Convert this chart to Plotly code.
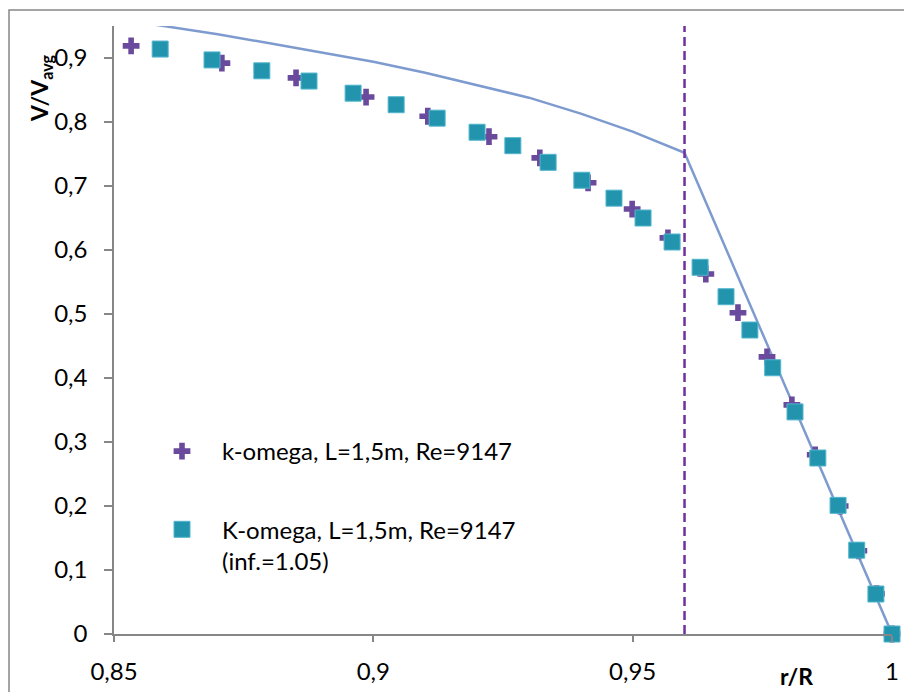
import plotly.graph_objects as go

# ---- data ----
plus_x = [0.8533, 0.8708, 0.8851, 0.8986, 0.9105, 0.9223, 0.9321, 0.9414, 0.9499,
          0.9568, 0.9641, 0.9703, 0.9759, 0.9807, 0.9852, 0.9900, 0.9936, 0.9970, 1.0]
plus_y = [0.919, 0.892, 0.869, 0.839, 0.809, 0.777, 0.744, 0.705, 0.664,
          0.619, 0.5625, 0.502, 0.433, 0.358, 0.280, 0.200, 0.130, 0.063, 0.0]

sq_x = [0.8589, 0.8689, 0.8785, 0.8876, 0.8961, 0.9044, 0.9123, 0.9200, 0.9269,
        0.9337, 0.9402, 0.9464, 0.9520, 0.9576, 0.9630, 0.9680, 0.9726, 0.9770,
        0.9813, 0.9857, 0.9896, 0.9932, 0.9969, 1.0]
sq_y = [0.914, 0.897, 0.880, 0.864, 0.845, 0.827, 0.806, 0.784, 0.763,
        0.737, 0.709, 0.681, 0.650, 0.6125, 0.573, 0.527, 0.475, 0.416,
        0.347, 0.275, 0.201, 0.131, 0.0625, 0.0]

line_x = [0.85, 0.86, 0.87, 0.88, 0.89, 0.90, 0.91, 0.92, 0.93, 0.94, 0.95, 0.96, 1.0]
line_y = [0.962, 0.950, 0.937, 0.923, 0.909, 0.894, 0.877, 0.858, 0.838, 0.813,
          0.785, 0.752, 0.0]

vline_x = [0.96, 0.96]
vline_y = [0.0, 0.95]

name_plus = "k-omega, L=1,5m, Re=9147"
name_sq = "K-omega, L=1,5m, Re=9147<br>(inf.=1.05)"

x_ticks = [0.85, 0.9, 0.95, 1.0]
y_ticks = [0, 0.1, 0.2, 0.3, 0.4, 0.5, 0.6, 0.7, 0.8, 0.9]

FONT = "Lato"
FS = 24

fig = go.Figure()

fig.add_trace(go.Scatter(
    x=line_x, y=line_y, mode="lines", showlegend=False,
    line=dict(color="#7E9BCF", width=2.5), hoverinfo="skip"))

fig.add_trace(go.Scatter(
    x=vline_x, y=vline_y, mode="lines", showlegend=False,
    line=dict(color="#7030A0", width=2.5, dash="9px,5px"), hoverinfo="skip"))

fig.add_trace(go.Scatter(
    x=plus_x, y=plus_y, mode="markers", name=name_plus, legendgroup="a",
    cliponaxis=False,
    marker=dict(symbol="cross", size=14, color="#6A4A9C",
                line=dict(width=0))))

fig.add_trace(go.Scatter(
    x=sq_x, y=sq_y, mode="markers", name=name_sq, legendgroup="b",
    cliponaxis=False,
    marker=dict(symbol="square", size=16, color="#2394AE",
                line=dict(width=1, color="#52B5CC"))))

W, H = 904, 692
L, R, T, B = 114, 12, 26, 58
pw, ph = W - L - R, H - T - B


def px(xp):
    return (xp - L) / pw


def py(yp):
    return (H - B - yp) / ph


fig.update_layout(
    width=W, height=H,
    margin=dict(l=L, r=R, t=T, b=B, autoexpand=False),
    paper_bgcolor="white", plot_bgcolor="white",
    separators=", ",
    font=dict(family=FONT, size=FS, color="#000000"),
    showlegend=True,
    legend=dict(x=px(142), y=py(429), xanchor="left", yanchor="top",
                bgcolor="rgba(0,0,0,0)", font=dict(family=FONT, size=FS),
                itemwidth=70,
                tracegroupgap=44, valign="top", traceorder="grouped"),
    xaxis=dict(range=[0.85, 1.0], tickvals=x_ticks, showgrid=False,
               zeroline=False, showline=True, linecolor="#868686", linewidth=1.5,
               ticks="outside", ticklen=6, tickcolor="#868686", tickwidth=1.5,
               ticklabelstandoff=9, automargin=False,
               tickfont=dict(family=FONT, size=FS)),
    yaxis=dict(range=[0, 0.95], tickvals=y_ticks, showgrid=False,
               zeroline=False, showline=True, linecolor="#868686", linewidth=1.5,
               ticks="outside", ticklen=8, tickcolor="#868686", tickwidth=1.5,
               ticklabelstandoff=12, automargin=False,
               tickfont=dict(family=FONT, size=FS)),
    annotations=[
        dict(text="<b>V/V<sub>avg</sub></b>", xref="paper", yref="paper",
             x=px(40), y=py(88), textangle=-90, showarrow=False,
             font=dict(family=FONT, size=23), xanchor="center", yanchor="middle"),
        dict(text="<b>r/R</b>", xref="paper", yref="paper",
             x=px(796), y=py(676), showarrow=False,
             font=dict(family=FONT, size=23), xanchor="center", yanchor="middle"),
    ],
    shapes=[
        dict(type="rect", xref="paper", yref="paper",
             x0=px(9), x1=px(920), y0=py(710), y1=py(10),
             line=dict(color="#868686", width=1.5), fillcolor="rgba(0,0,0,0)",
             layer="below"),
    ],
)

fig.write_html("out.html")
